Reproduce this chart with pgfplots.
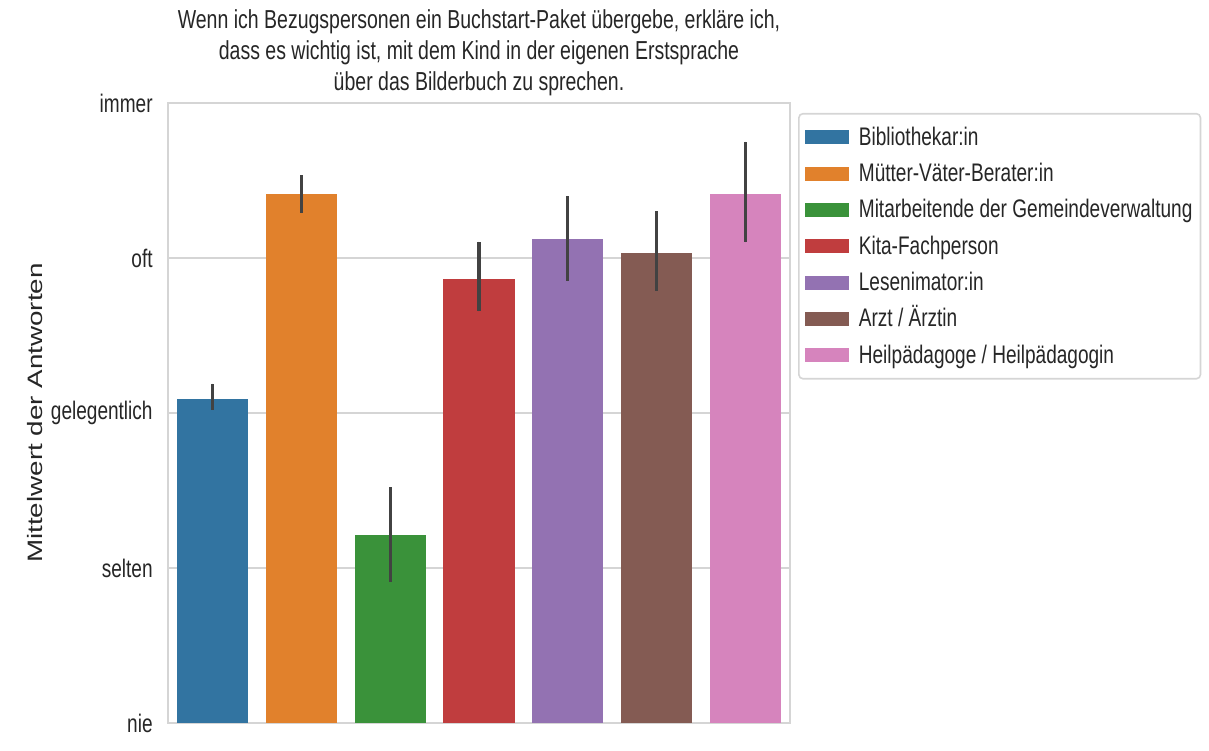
\documentclass[border=0pt]{standalone}
\usepackage{fontspec}
\setmainfont{Liberation Sans}[FakeStretch=0.75]
\newfontfamily\ylabfont{Liberation Sans}
\usepackage{pgfplots}
\pgfplotsset{compat=1.18}
\definecolor{c1}{HTML}{3274A1}
\definecolor{c2}{HTML}{E1812C}
\definecolor{c3}{HTML}{3A923A}
\definecolor{c4}{HTML}{C03D3E}
\definecolor{c5}{HTML}{9372B2}
\definecolor{c6}{HTML}{845B53}
\definecolor{c7}{HTML}{D684BD}
\definecolor{txt}{HTML}{262626}
\definecolor{gridc}{HTML}{D5D5D5}
\definecolor{errc}{HTML}{424242}
\pgfplotsset{myleg/.style={legend image code/.code={\fill[##1, sharp corners] (0pt,-3.5pt) rectangle (22pt,3.5pt);}}}
\begin{document}
\begin{tikzpicture}
\useasboundingbox (0,0) rectangle (604.5pt,375pt);
\begin{axis}[
 at={(84pt,13.5pt)}, anchor=south west,
 scale only axis, width=311pt, height=310pt,
 xmin=-0.5, xmax=6.5, ymin=1, ymax=5,
 ytick={1,2,3,4,5}, yticklabels={nie,selten,gelegentlich,oft,immer},
 xtick=\empty,
 ymajorgrids, grid style={gridc, line width=1pt},
 axis line style={gridc, line width=1pt},
 major tick length=0pt,
 tick label style={font=\fontsize{12.7}{15}\selectfont, text=txt},
 yticklabel style={inner sep=0pt, xshift=-7.5pt},
 ylabel={Mittelwert der Antworten},
 ylabel style={at={(axis description cs:-0.2138,0.5)}, anchor=center, yscale=0.75, font=\ylabfont\fontsize{13.9}{16}\selectfont, text=txt},
 title={Wenn ich Bezugspersonen ein Buchstart-Paket übergebe, erkläre ich,\\dass es wichtig ist, mit dem Kind in der eigenen Erstsprache\\über das Bilderbuch zu sprechen.},
 title style={at={(axis description cs:0.5,1)}, anchor=south, yshift=-2.5pt, inner sep=0pt, align=center, font=\fontsize{13}{15.5}\selectfont, text=txt},
 legend style={at={(1.013,0.984)}, anchor=north west, draw=gridc, line width=0.8pt, rounded corners=2pt,
   font=\fontsize{12.7}{15}\selectfont, text=txt, inner xsep=3pt, inner ysep=4.8pt,
   nodes={inner sep=1pt, text height=10pt, text depth=2pt}, row sep=4.15pt,
   /tikz/every odd column/.append style={column sep=4pt}},
 legend cell align=left,
 ybar, bar shift=0pt, bar width=0.8,
 error bars/y dir=both, error bars/y explicit,
 error bars/error bar style={line width=1.6pt, color=errc},
 error bars/error mark=none,
]
\addplot[fill=c1, draw=none, myleg] coordinates {(0,3.09) +=(0,0.10) -=(0,0.07)};
\addlegendentry{Bibliothekar:in}
\addplot[fill=c2, draw=none, myleg] coordinates {(1,4.41) +=(0,0.125) -=(0,0.12)};
\addlegendentry{Mütter-Väter-Berater:in}
\addplot[fill=c3, draw=none, myleg] coordinates {(2,2.21) +=(0,0.31) -=(0,0.30)};
\addlegendentry{Mitarbeitende der Gemeindeverwaltung}
\addplot[fill=c4, draw=none, myleg] coordinates {(3,3.865) +=(0,0.24) -=(0,0.21)};
\addlegendentry{Kita-Fachperson}
\addplot[fill=c5, draw=none, myleg] coordinates {(4,4.12) +=(0,0.28) -=(0,0.27)};
\addlegendentry{Lesenimator:in}
\addplot[fill=c6, draw=none, myleg] coordinates {(5,4.03) +=(0,0.27) -=(0,0.24)};
\addlegendentry{Arzt / Ärztin}
\addplot[fill=c7, draw=none, myleg] coordinates {(6,4.41) +=(0,0.34) -=(0,0.31)};
\addlegendentry{Heilpädagoge / Heilpädagogin}
\end{axis}
\end{tikzpicture}
\end{document}
